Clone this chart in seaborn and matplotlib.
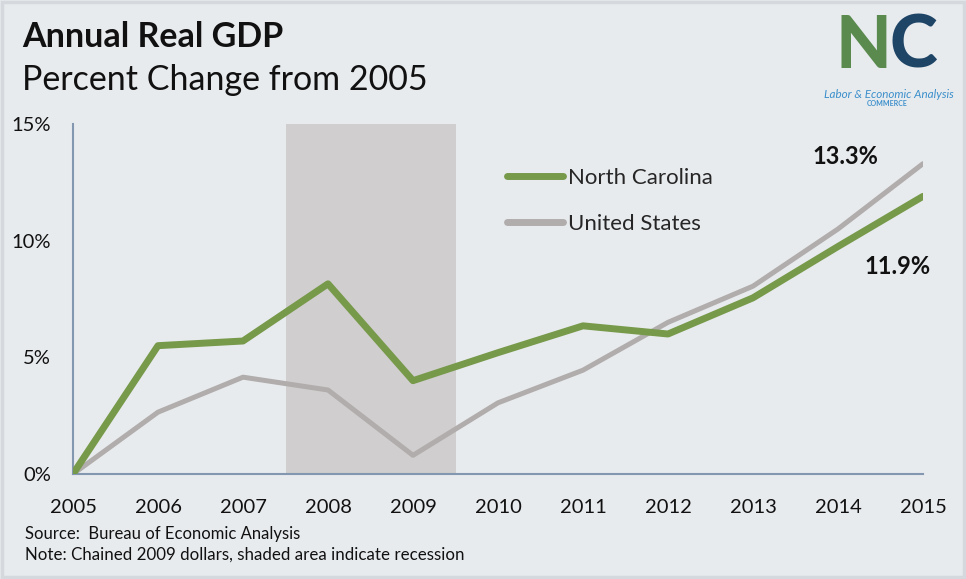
import matplotlib
matplotlib.use("Agg")
import matplotlib.pyplot as plt
import matplotlib.patches as mpatches
from matplotlib.lines import Line2D
import seaborn as sns
import pandas as pd

years = [2005, 2006, 2007, 2008, 2009, 2010, 2011, 2012, 2013, 2014, 2015]
nc_values = [0.0, 5.5, 5.7, 8.15, 4.0, 5.2, 6.35, 6.0, 7.55, 9.75, 11.9]
us_values = [0.0, 2.65, 4.15, 3.6, 0.8, 3.05, 4.45, 6.5, 8.05, 10.5, 13.3]
series_names = ["North Carolina", "United States"]
y_ticks = [0, 5, 10, 15]
y_tick_labels = ["0%", "5%", "10%", "15%"]
recession = (2007.5, 2009.5)

BG = "#E8EBEE"
GREEN = "#77994A"
GRAY = "#B1ADAC"
SPINE = "#8497B0"

sns.set_theme(style="white")
plt.rcParams["font.family"] = ["Lato", "DejaVu Sans"]

df = pd.DataFrame({
    "Year": years * 2,
    "Value": nc_values + us_values,
    "Series": [series_names[0]] * len(years) + [series_names[1]] * len(years),
})

fig = plt.figure(figsize=(9.66, 5.79), dpi=100, facecolor=BG)
fig.patches.append(mpatches.Rectangle((0.002, 0.003), 0.996, 0.994, transform=fig.transFigure,
                                      fill=False, edgecolor="#D5D8DC", linewidth=2.5))
ax = fig.add_axes([73 / 966, 1 - 474 / 579, (923 - 73) / 966, (474 - 124) / 579])
ax.set_facecolor(BG)

ax.axvspan(recession[0], recession[1], color="#D0CECE", zorder=0, lw=0)

sns.lineplot(data=df, x="Year", y="Value", hue="Series",
             palette={series_names[0]: GREEN, series_names[1]: GRAY},
             hue_order=[series_names[1], series_names[0]],
             ax=ax, legend=False)
lines = ax.get_lines()
lines[0].set_linewidth(3.6)
lines[0].set_zorder(2)
lines[1].set_linewidth(5.0)
lines[1].set_zorder(3)

ax.set_xlim(years[0], years[-1])
ax.set_ylim(0, 15)
ax.set_xticks(years)
ax.set_xticklabels([str(y) for y in years], fontsize=14.5, color="#111111")
ax.set_yticks(y_ticks)
ax.set_yticklabels(y_tick_labels, fontsize=14.5, color="#111111")
ax.tick_params(axis="x", length=0, pad=18)
ax.tick_params(axis="y", length=0, pad=16)
ax.set_xlabel("")
ax.set_ylabel("")
for s in ["top", "right"]:
    ax.spines[s].set_visible(False)
for s in ["left", "bottom"]:
    ax.spines[s].set_color(SPINE)
    ax.spines[s].set_linewidth(1.5)

handles = [Line2D([0], [0], color=GREEN, lw=5, solid_capstyle="round"),
           Line2D([0], [0], color=GRAY, lw=5, solid_capstyle="round")]
ax.legend(handles, series_names, loc="upper left", bbox_to_anchor=(0.5106, 0.874),
          frameon=False, fontsize=16, handlelength=2.5, handletextpad=0.25,
          labelspacing=1.15, borderpad=0, borderaxespad=0)

ax.text(2014.09, 13.6, f"{us_values[-1]:.1f}%", fontsize=17,
        fontweight="bold", ha="center", va="center", color="#111111")
ax.text(2014.7, 8.9, f"{nc_values[-1]:.1f}%", fontsize=17,
        fontweight="bold", ha="center", va="center", color="#111111")

fig.text(22 / 966, 1 - 37 / 579, "Annual Real GDP", fontsize=24.5, fontweight="bold",
         va="center", ha="left", color="#111111")
fig.text(22 / 966, 1 - 80 / 579, "Percent Change from 2005", fontsize=24.5,
         va="center", ha="left", color="#111111")
fig.text(25 / 966, 1 - 534 / 579, "Source:  Bureau of Economic Analysis", fontsize=12,
         va="center", ha="left", color="#111111")
fig.text(25 / 966, 1 - 555 / 579, "Note: Chained 2009 dollars, shaded area indicate recession",
         fontsize=12.2, va="center", ha="left", color="#111111")

# logo
fig.text(891 / 966, 1 - 47 / 579, "N", fontsize=52, fontweight="black", color="#5A8A4E",
         ha="right", va="center")
fig.text(889 / 966, 1 - 47 / 579, "C", fontsize=52, fontweight="black", color="#1E4466",
         ha="left", va="center")
fig.text(889 / 966, 1 - 94 / 579, "Labor & Economic Analysis", fontsize=8.4, style="italic",
         color="#3B8FCB", ha="center", va="center")
fig.text(887 / 966, 1 - 104 / 579, "COMMERCE", fontsize=5, fontweight="bold",
         color="#3B8FCB", ha="center", va="center")

fig.savefig("out.png", dpi=100, facecolor=BG)
